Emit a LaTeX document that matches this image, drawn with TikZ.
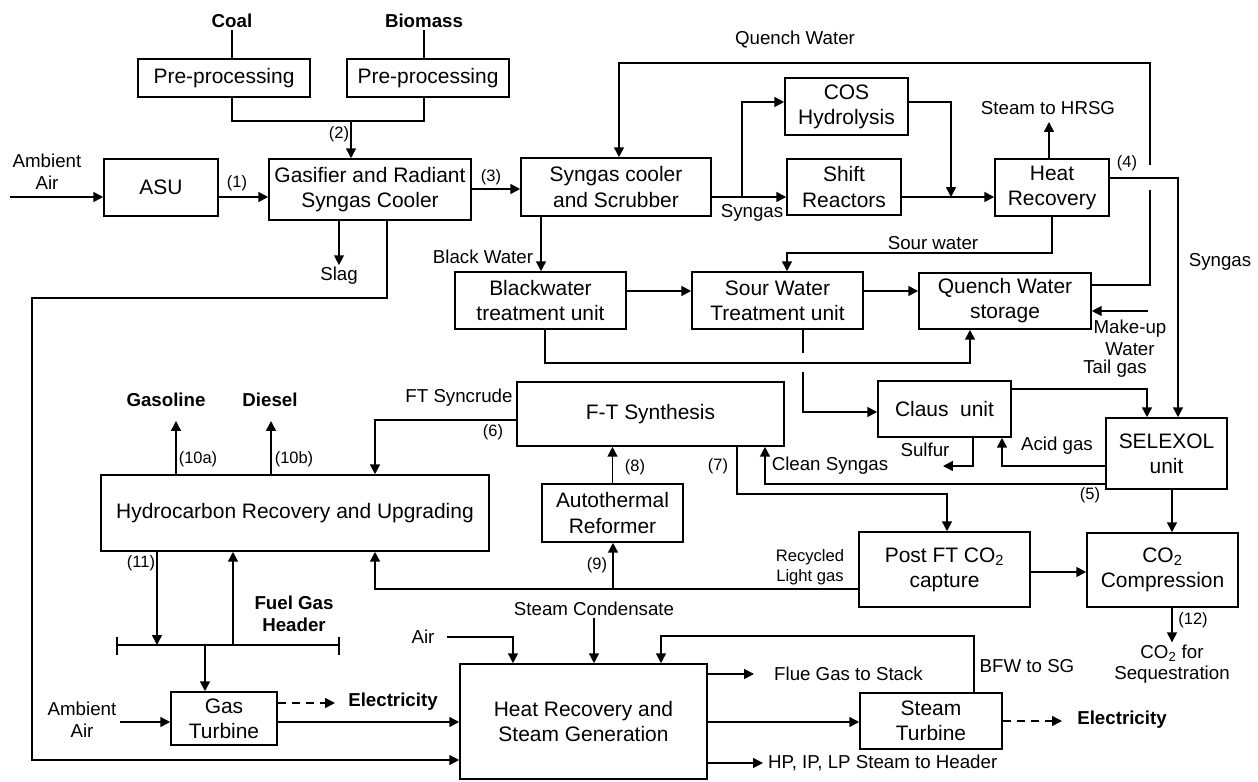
\documentclass[tikz,border=0pt]{standalone}
\usepackage{fontspec}
\setmainfont{Liberation Sans}
\usetikzlibrary{arrows.meta}
\def\boxfont{\fontsize{14.9}{17.8}\selectfont}
\def\lblfont{\fontsize{13.3}{15.4}\selectfont}
\def\smlfont{\fontsize{11.8}{14}\selectfont}
\def\numfont{\fontsize{11.7}{14}\selectfont}
\def\bldfont{\fontsize{13.3}{15.4}\selectfont\bfseries}
\tikzset{
	blk/.style 2 args={draw, minimum width=#1*0.025cm, minimum height=#2*0.025cm, inner sep=0pt, align=center, font=\boxfont},
	lbl/.style={inner sep=1pt, align=center, font=\lblfont},
	sml/.style={inner sep=1pt, align=center, font=\smlfont},
	num/.style={inner sep=0pt, font=\numfont},
	bld/.style={inner sep=1pt, align=center, font=\bldfont},
	flow/.style={-{Triangle[length=7pt,width=7pt]}},
	elec/.style={dash pattern=on 6pt off 4pt}
}

\begin{document}
\begin{tikzpicture}[x=0.025cm, y=-0.025cm, line width=1.1pt]
	%%%%% START %%%%%
	\useasboundingbox (0,0) rectangle (1258,782);
	
	\node[blk={172}{38}] (pre1) at (224,78) {Pre-processing};
	\node[blk={162}{38}] (pre2) at (428,78) {Pre-processing};
	\node[blk={114}{57}] (asu) at (161,187.5) {ASU};
	\node[blk={202}{61}] (gasif) at (370,189.5) {Gasifier and Radiant\\Syngas Cooler};
	\node[blk={190}{58}] (scrub) at (616,187) {Syngas cooler\\and Scrubber};
	\node[blk={123}{57}] (cos) at (846.5,106.5) {COS\\Hydrolysis};
	\node[blk={114}{56}] (shift) at (844,187) {Shift\\Reactors};
	\node[blk={114}{57}] (heat) at (1052,187.5) {Heat\\Recovery};
	\node[blk={171}{57}] (bwt) at (540.5,300.5) {Blackwater\\treatment unit};
	\node[blk={171}{57}] (swt) at (777.5,300.5) {Sour Water\\Treatment unit};
	\node[blk={172}{56}] (qws) at (1005,301) {Quench Water\\storage};
	\node[blk={267}{64}] (ft) at (650.5,414) {F-T Synthesis};
	\node[blk={133}{56}] (claus) at (944.5,409) {Claus\ \ unit};
	\node[blk={121}{71}] (selex) at (1166.5,453.5) {SELEXOL\\unit};
	\node[blk={388}{76}] (hru) at (295,513) {Hydrocarbon Recovery and Upgrading};
	\node[blk={141}{58}] (atr) at (612.5,513) {Autothermal\\Reformer};
	\node[blk={171}{75}] (post) at (944.5,569.5) {Post FT CO\textsubscript{2}\\capture};
	\node[blk={151}{74}] (co2c) at (1162.5,570) {CO\textsubscript{2}\\Compression};
	\node[blk={106}{53}] (gt) at (224,718.5) {Gas\\Turbine};
	\node[blk={247}{115}] (hrsg) at (583.5,721.5) {Heat Recovery and\\Steam Generation};
	\node[blk={142}{56}] (st) at (931,721) {Steam\\Turbine};
	
	% feed
	\node[bld] (coal) at (232,21) {Coal};
	\node[bld] (biomass) at (424,21) {Biomass};
	\draw (coal) -- (coal |- pre1.north);
	\draw (biomass) -- (biomass |- pre2.north);
	\coordinate (mix) at (351,121);
	\draw (coal |- pre1.south) |- (mix) -| (biomass |- pre2.south);
	\draw[flow] (mix) -- (mix |- gasif.north);
	\node[num] (n2) at (339,134) {(2)};
	
	\node[lbl] (air1) at (47,172) {Ambient\\Air};
	\coordinate (airin) at (10,197);
	\draw[flow] (airin) -- (asu.west |- airin);
	\draw[flow] (asu.east |- airin) -- (gasif.west |- airin);
	\node[num] (n1) at (237,183) {(1)};
	\draw[flow] (gasif.east |- 0,189) -- (scrub.west |- 0,189);
	\node[num] (n3) at (491,177) {(3)};
	\node[lbl] (slag) at (339,276) {Slag};
	\draw[flow] (gasif.south -| slag) -- (slag);
	\coordinate (lft) at (32,298);
	\coordinate (bot) at (32,760);
	\draw[flow] (gasif.south -| 387,0) |- (lft) -- (bot) -- (hrsg.west |- bot);
	
	% syngas cleanup
	\coordinate (sg) at (742,197);
	\draw[flow] (scrub.east |- sg) -- (shift.west |- sg);
	\draw[flow] (sg) |- (cos.west |- 0,102);
	\node[lbl] (syn1) at (752,213) {Syngas};
	\draw[flow] (scrub.south -| 541,0) -- (bwt.north -| 541,0);
	\node[lbl] (blkw) at (483,257) {Black Water};
	
	\coordinate (qr) at (1150,285);
	\coordinate (qt) at (1150,63);
	\draw (qws.east |- qr) -- (qr) -- (1150,190);
	\draw[flow] (1150,165) -- (qt) -| (scrub.north -| 619,0);
	\node[lbl] (qwt) at (795,39) {Quench Water};
	
	\draw[flow] (cos.east |- 0,102) -| (951,197);
	\draw[flow] (shift.east |- sg) -- (heat.west |- sg);
	\node[lbl] (toh) at (1048,108) {Steam to HRSG};
	\coordinate (tohtip) at (1049,122);
	\draw[flow] (heat.north -| tohtip) -- (tohtip);
	\draw[flow] (heat.east |- 0,178) -| (selex.north -| 1178,0);
	\node[num] (n4) at (1127,163) {(4)};
	\node[lbl] (syn2) at (1220,262) {Syngas};
	
	% water
	\coordinate (sw) at (787,253);
	\draw[flow] (heat.south) |- (sw) -- (swt.north -| sw);
	\node[lbl] (swl) at (933,243) {Sour water};
	\draw[flow] (bwt.east |- 0,291) -- (swt.west |- 0,291);
	\draw[flow] (swt.east |- 0,291) -- (qws.west |- 0,291);
	\coordinate (mk) at (1148,311);
	\draw[flow] (mk) -- (qws.east |- mk);
	\node[lbl] (mkl) at (1130,338) {Make-up\\Water};
	\node[lbl] (tgl) at (1115,369) {Tail gas};
	\coordinate (bwl) at (970,363);
	\draw[flow] (bwt.south -| 545,0) |- (bwl) -- (qws.south -| bwl);
	\draw (swt.south -| 803,0) -- (803,353);
	\draw[flow] (803,372) |- (claus.west |- 0,412);
	
	% sulfur and co2
	\draw[flow] (claus.east |- 0,389) -| (selex.north -| 1147,0);
	\draw[flow] (selex.west |- 0,466) -| (claus.south -| 1002,0);
	\node[lbl] (acid) at (1057,446) {Acid gas};
	\coordinate (sulf) at (943,466);
	\draw[flow] (claus.south -| 973,0) |- (sulf);
	\node[lbl] (sulfl) at (925,450) {Sulfur};
	\draw[flow] (selex.west |- 0,484) -| (ft.south -| 765,0);
	\node[lbl] (clean) at (830,466) {Clean Syngas};
	\node[num] (n5) at (1090,495) {(5)};
	\draw[flow] (ft.south -| 737,0) |- (947,494) -- (post.north -| 947,0);
	\node[num] (n7) at (718,466) {(7)};
	\draw[flow] (selex.south -| 1172,0) -- (co2c.north -| 1172,0);
	\draw[flow] (post.east |- 0,572) -- (co2c.west |- 0,572);
	\node[lbl] (seq) at (1172,664) {CO\textsubscript{2} for\\Sequestration};
	\draw[flow] (co2c.south -| seq) -- (seq);
	\node[num] (n12) at (1193,620) {(12)};
	
	% FT loop
	\draw[flow] (ft.west |- 0,420) -| (hru.north -| 375,0);
	\node[lbl] (ftsc) at (459,398) {FT Syncrude};
	\node[num] (n6) at (493,432) {(6)};
	\draw[flow] (atr.north) -- (ft.south -| atr.north);
	\node[num] (n8) at (635,467) {(8)};
	\coordinate (rc) at (613,589);
	\draw[flow] (post.west |- rc) -| (hru.south -| 375,0);
	\draw[flow] (rc) -- (atr.south -| rc);
	\node[num] (n9) at (597,565) {(9)};
	\node[sml] (rlg) at (810,567) {Recycled\\Light gas};
	
	\node[bld] (gasol) at (166,400) {Gasoline};
	\node[bld] (dies) at (270,400) {Diesel};
	\coordinate (gtip) at (176,421);
	\coordinate (dtip) at (271,421);
	\draw[flow] (hru.north -| gtip) -- (gtip);
	\draw[flow] (hru.north -| dtip) -- (dtip);
	\node[num] (n10a) at (198,459) {(10a)};
	\node[num] (n10b) at (294,459) {(10b)};
	
	% fuel gas header
	\coordinate (hl) at (117,645);
	\coordinate (hr) at (339,645);
	\draw (hl) -- (hr);
	\draw (117,637) -- (117,655);
	\draw (339,637) -- (339,655);
	\draw[flow] (hru.south -| 157,0) -- (hl -| 157,0);
	\node[num] (n11) at (141,563) {(11)};
	\draw[flow] (hl -| 233,0) -- (hru.south -| 233,0);
	\node[bld] (fgh) at (294,614) {Fuel Gas\\Header};
	\draw[flow] (hl -| 205,0) -- (gt.north -| 205,0);
	
	% power block
	\node[lbl] (air2) at (82,720) {Ambient\\Air};
	\coordinate (air2in) at (120,722);
	\draw[flow] (air2in) -- (gt.west |- air2in);
	\coordinate (e1tip) at (335,703);
	\draw[flow, elec] (gt.east |- e1tip) -- (e1tip);
	\node[bld] (el1) at (393,702) {Electricity};
	\draw[flow] (gt.east |- air2in) -- (hrsg.west |- air2in);
	
	\node[lbl] (air3) at (423,637) {Air};
	\coordinate (air3in) at (447,637);
	\draw[flow] (air3in) -| (hrsg.north -| 513,0);
	\node[lbl] (sc) at (594,609) {Steam Condensate};
	\draw[flow] (sc) -- (hrsg.north -| sc);
	\draw[flow] (st.north -| 974,0) |- (661,636) -- (hrsg.north -| 661,0);
	\node[lbl] (bfw) at (1027,666) {BFW to SG};
	\coordinate (fltip) at (754,674);
	\draw[flow] (hrsg.east |- fltip) -- (fltip);
	\node[lbl, anchor=west] (flue) at (772,674) {Flue Gas to Stack};
	\draw[flow] (hrsg.east |- 0,722) -- (st.west |- 0,722);
	\coordinate (hptip) at (763,763);
	\draw[flow] (hrsg.east |- hptip) -- (hptip);
	\node[lbl, anchor=west] (hp) at (766,763) {HP, IP, LP Steam to Header};
	\coordinate (e2tip) at (1062,721);
	\draw[flow, elec] (st.east |- e2tip) -- (e2tip);
	\node[bld] (el2) at (1122,720) {Electricity};
	
	%%%%% END %%%%%
\end{tikzpicture}
\end{document}
